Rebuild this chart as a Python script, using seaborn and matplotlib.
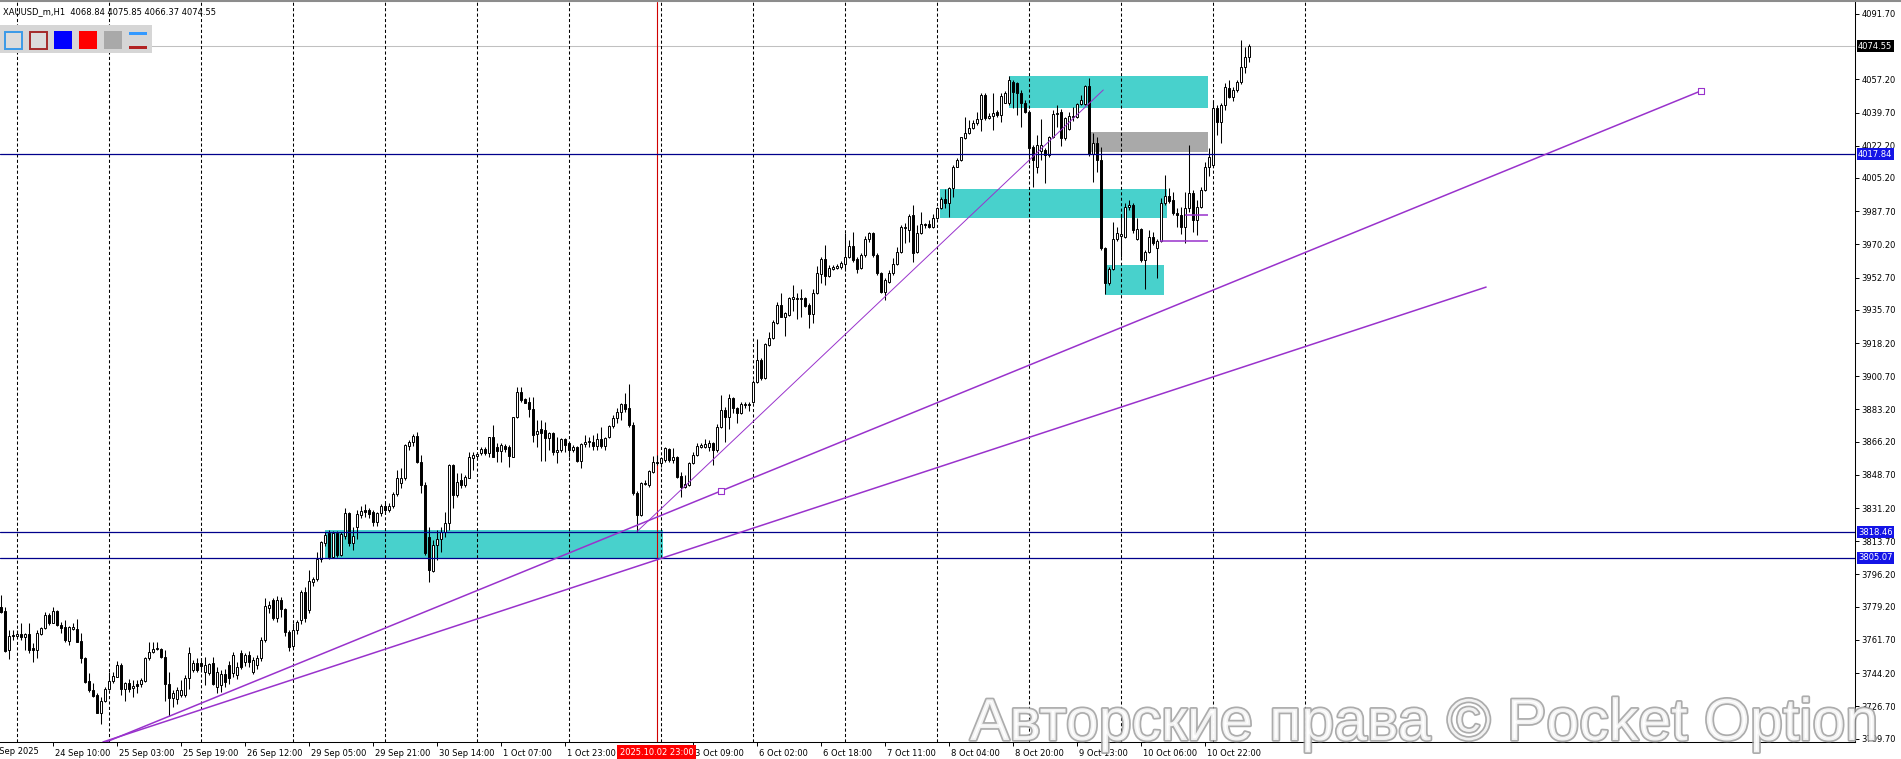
import numpy as np
import pandas as pd
import seaborn as sns
import matplotlib.pyplot as plt
import matplotlib.patheffects as pe
from matplotlib.patches import Rectangle
from matplotlib.transforms import ScaledTranslation

W, H, DPI = 1901, 759, 100

# H1 bars, bar 0 = 23 Sep 20:00
bar_open = [
    3779.3, 3777.2, 3756.4, 3764.0, 3763.8, 3764.9, 3763.4, 3764.7, 3757.3, 3756.4,
    3764.9, 3767.8, 3774.9, 3770.5, 3777.0, 3769.6, 3768.4, 3761.3, 3767.5, 3767.5,
    3761.1, 3752.0, 3740.3, 3735.3, 3732.7, 3723.4, 3729.7, 3735.7, 3740.3, 3742.4,
    3748.5, 3735.7, 3738.9, 3736.2, 3738.3, 3738.3, 3740.3, 3752.0, 3755.5, 3756.8,
    3756.8, 3752.6, 3738.3, 3731.0, 3730.4, 3732.7, 3732.7, 3741.5, 3745.9, 3749.8,
    3749.8, 3744.6, 3744.1, 3749.4, 3737.1, 3738.0, 3744.0, 3748.5, 3744.1, 3743.2,
    3754.7, 3750.3, 3753.8, 3745.0, 3748.5, 3752.0, 3761.7, 3778.3, 3782.7, 3773.1,
    3782.7, 3777.8, 3766.0, 3758.5, 3767.0, 3772.0, 3786.8, 3777.5, 3792.4, 3793.6,
    3804.3, 3812.6, 3818.2, 3805.6, 3818.2, 3806.5, 3816.5, 3828.4, 3812.6, 3821.0,
    3827.5, 3830.2, 3830.2, 3829.3, 3824.0, 3828.4, 3832.5, 3830.0, 3832.5, 3838.4,
    3844.5, 3847.2, 3864.1, 3866.2, 3869.2, 3855.7, 3843.4, 3816.2, 3798.1, 3811.8,
    3814.7, 3818.8, 3823.5, 3853.9, 3838.1, 3846.0, 3843.4, 3847.3, 3857.4, 3858.7,
    3860.1, 3862.2, 3860.1, 3868.5, 3863.2, 3861.5, 3864.0, 3863.2, 3858.3, 3879.1,
    3892.6, 3888.5, 3887.3, 3883.3, 3870.3, 3872.7, 3872.4, 3868.0, 3870.6, 3860.6,
    3861.8, 3867.5, 3865.7, 3861.8, 3863.6, 3856.2, 3865.0, 3866.2, 3866.2, 3863.9,
    3867.5, 3863.9, 3868.5, 3874.5, 3878.5, 3882.0, 3886.1, 3883.8, 3875.0, 3839.3,
    3827.6, 3843.9, 3843.4, 3850.4, 3854.8, 3854.8, 3856.6, 3862.2, 3856.6, 3858.3,
    3848.1, 3842.1, 3843.4, 3854.8, 3859.2, 3863.6, 3863.6, 3863.6, 3865.3, 3861.8,
    3874.1, 3882.9, 3879.4, 3889.1, 3883.8, 3881.2, 3885.5, 3885.5, 3887.0, 3897.8,
    3909.3, 3899.6, 3917.2, 3920.7, 3929.0, 3938.3, 3932.1, 3933.0, 3941.2, 3941.2,
    3941.2, 3942.1, 3938.3, 3933.5, 3944.4, 3954.6, 3962.3, 3953.5, 3957.4, 3957.9,
    3958.5, 3959.9, 3963.4, 3969.4, 3962.3, 3957.6, 3964.6, 3972.9, 3976.0, 3964.6,
    3955.0, 3945.3, 3950.6, 3955.0, 3959.9, 3966.4, 3978.7, 3977.8, 3985.7, 3966.4,
    3976.0, 3980.9, 3980.9, 3979.5, 3984.0, 3989.2, 3993.9, 3992.2, 3999.8, 4011.2,
    4014.7, 4026.1, 4028.7, 4031.4, 4034.0, 4036.1, 4048.9, 4036.7, 4037.9, 4040.2,
    4038.4, 4044.9, 4044.6, 4056.0, 4055.1, 4050.2, 4044.9, 4040.2, 4021.4, 4011.2,
    4019.6, 4020.0, 4017.3, 4026.6, 4038.9, 4040.2, 4026.1, 4030.8, 4037.2, 4037.2,
    4044.2, 4044.2, 4053.7, 4017.8, 4023.5, 4014.7, 3968.1, 3950.0, 3957.0, 3972.9,
    3974.6, 3974.3, 3990.1, 3991.0, 3972.9, 3978.1, 3962.0, 3966.4, 3974.3, 3968.1,
    3972.2, 3991.8, 3995.7, 3993.6, 3986.9, 3985.7, 3979.2, 3989.2, 3997.5, 3983.1,
    3989.7, 3998.9, 4011.2, 4012.0, 4041.9, 4034.9, 4043.7, 4052.5, 4048.1, 4051.6,
    4056.0, 4063.5, 4068.84,
]
bar_high = [
    3785.4, 3779.0, 3767.0, 3767.0, 3767.0, 3770.5, 3765.2, 3770.8, 3759.9, 3767.0,
    3768.4, 3776.6, 3775.8, 3779.3, 3777.5, 3771.4, 3772.2, 3769.1, 3770.5, 3772.9,
    3765.2, 3752.9, 3744.1, 3738.9, 3733.6, 3731.8, 3737.1, 3745.0, 3745.0, 3750.8,
    3749.4, 3739.7, 3741.0, 3740.6, 3740.6, 3741.5, 3752.9, 3760.8, 3760.8, 3760.8,
    3757.3, 3756.4, 3745.0, 3735.3, 3737.1, 3740.6, 3743.2, 3757.8, 3751.0, 3752.0,
    3752.0, 3752.9, 3749.4, 3752.9, 3747.5, 3746.0, 3746.5, 3750.5, 3755.5, 3750.0,
    3756.4, 3755.0, 3756.0, 3752.5, 3754.0, 3763.0, 3783.6, 3782.0, 3784.0, 3785.0,
    3784.5, 3778.5, 3767.0, 3770.5, 3772.0, 3788.0, 3789.5, 3798.5, 3795.0, 3808.2,
    3814.0, 3818.5, 3819.5, 3819.0, 3819.0, 3818.5, 3831.4, 3829.0, 3821.4, 3830.2,
    3832.5, 3833.2, 3831.0, 3830.0, 3829.0, 3833.3, 3834.0, 3834.0, 3839.5, 3851.3,
    3852.1, 3865.0, 3867.0, 3870.5, 3871.1, 3859.2, 3845.0, 3821.4, 3814.4, 3819.7,
    3821.4, 3829.3, 3854.3, 3854.3, 3849.5, 3849.5, 3848.7, 3861.0, 3861.0, 3861.0,
    3863.2, 3863.6, 3868.9, 3875.0, 3865.3, 3865.3, 3865.0, 3864.5, 3879.4, 3895.2,
    3895.2, 3889.1, 3889.9, 3889.9, 3877.6, 3877.6, 3876.8, 3871.5, 3871.5, 3868.9,
    3868.0, 3868.0, 3866.2, 3864.5, 3863.9, 3865.3, 3869.7, 3868.9, 3869.7, 3870.6,
    3874.1, 3868.9, 3875.0, 3880.3, 3883.8, 3886.8, 3891.7, 3896.6, 3876.8, 3840.0,
    3845.1, 3846.0, 3851.3, 3858.7, 3859.2, 3858.3, 3863.6, 3862.7, 3862.7, 3858.7,
    3850.4, 3848.6, 3855.7, 3860.9, 3865.3, 3865.3, 3867.4, 3867.0, 3866.2, 3875.5,
    3890.8, 3884.7, 3891.2, 3890.0, 3884.7, 3887.3, 3887.3, 3887.3, 3898.7, 3920.2,
    3910.1, 3918.0, 3924.2, 3930.3, 3940.0, 3944.4, 3934.7, 3942.6, 3948.8, 3944.4,
    3946.5, 3942.3, 3939.1, 3946.5, 3958.8, 3963.7, 3969.9, 3959.3, 3959.3, 3959.9,
    3961.6, 3976.4, 3972.5, 3976.9, 3963.7, 3965.5, 3974.6, 3976.6, 3976.6, 3965.5,
    3955.8, 3952.3, 3956.7, 3962.9, 3969.0, 3980.4, 3981.3, 3986.2, 3991.0, 3980.4,
    3987.5, 3981.3, 3983.1, 3986.1, 3990.1, 3995.4, 3999.2, 4000.6, 4012.1, 4015.6,
    4027.0, 4037.5, 4035.8, 4035.8, 4040.2, 4049.8, 4049.8, 4039.3, 4049.8, 4041.0,
    4049.8, 4051.2, 4059.0, 4056.9, 4056.0, 4051.6, 4046.3, 4041.0, 4022.6, 4027.9,
    4036.1, 4020.8, 4027.3, 4041.0, 4043.7, 4041.4, 4037.5, 4040.2, 4042.4, 4044.9,
    4048.9, 4054.2, 4057.7, 4028.7, 4027.0, 4021.7, 3969.0, 3958.1, 3982.2, 3979.5,
    3985.7, 3991.8, 3993.6, 3991.8, 3983.9, 3978.7, 3967.2, 3977.8, 3976.9, 3972.9,
    3994.5, 4006.8, 4000.1, 3998.0, 3989.2, 3990.1, 3998.0, 4022.6, 3998.9, 3993.6,
    4000.6, 4013.8, 4020.8, 4046.3, 4043.7, 4044.5, 4055.4, 4056.8, 4053.3, 4056.8,
    4077.9, 4074.4, 4075.85,
]
bar_low = [
    3775.8, 3755.5, 3751.5, 3761.7, 3763.0, 3761.7, 3756.4, 3754.7, 3750.3, 3752.0,
    3764.3, 3767.5, 3769.6, 3770.5, 3769.1, 3765.2, 3760.8, 3759.1, 3767.0, 3760.4,
    3749.4, 3738.9, 3734.5, 3731.8, 3723.0, 3717.2, 3729.2, 3735.3, 3738.9, 3742.0,
    3732.7, 3729.5, 3734.5, 3731.8, 3733.6, 3737.1, 3739.7, 3751.2, 3754.7, 3756.4,
    3752.0, 3729.5, 3721.6, 3726.5, 3727.8, 3731.8, 3731.8, 3735.7, 3745.0, 3745.0,
    3745.0, 3738.0, 3743.2, 3738.0, 3733.6, 3734.0, 3737.0, 3738.5, 3742.0, 3741.0,
    3746.2, 3748.0, 3747.5, 3743.5, 3746.5, 3750.5, 3760.5, 3776.0, 3772.0, 3771.0,
    3774.0, 3764.0, 3756.0, 3757.0, 3765.0, 3770.0, 3771.0, 3776.0, 3790.0, 3793.0,
    3803.0, 3811.0, 3804.5, 3805.0, 3805.6, 3806.0, 3815.0, 3811.2, 3809.1, 3815.0,
    3826.0, 3826.7, 3826.0, 3822.0, 3821.9, 3827.0, 3828.0, 3829.0, 3831.0, 3837.5,
    3841.6, 3846.0, 3862.0, 3864.0, 3854.8, 3839.0, 3806.5, 3792.4, 3797.7, 3803.8,
    3808.2, 3816.0, 3819.7, 3831.1, 3837.2, 3841.6, 3842.5, 3846.9, 3851.3, 3857.0,
    3859.2, 3859.2, 3858.3, 3857.9, 3855.7, 3855.7, 3861.0, 3853.0, 3858.0, 3878.5,
    3887.3, 3886.4, 3879.4, 3866.2, 3863.6, 3856.2, 3856.2, 3861.8, 3859.2, 3854.8,
    3861.0, 3861.0, 3858.3, 3861.0, 3855.7, 3852.2, 3863.6, 3863.6, 3861.8, 3861.8,
    3862.7, 3861.8, 3868.0, 3873.3, 3875.9, 3877.6, 3882.0, 3874.1, 3838.0, 3818.8,
    3827.0, 3843.4, 3842.5, 3849.9, 3853.9, 3853.0, 3855.7, 3855.7, 3854.8, 3846.9,
    3837.2, 3841.6, 3842.8, 3854.4, 3858.7, 3862.7, 3862.7, 3861.5, 3853.9, 3861.0,
    3873.6, 3866.2, 3872.7, 3881.2, 3876.2, 3880.8, 3884.0, 3882.6, 3886.4, 3897.3,
    3898.7, 3899.1, 3916.6, 3920.2, 3928.2, 3931.8, 3921.9, 3932.5, 3935.0, 3931.0,
    3932.0, 3937.0, 3926.0, 3928.6, 3943.9, 3950.0, 3948.8, 3953.2, 3956.7, 3957.4,
    3957.4, 3956.4, 3962.9, 3961.1, 3955.3, 3957.1, 3963.7, 3971.6, 3963.7, 3954.1,
    3944.4, 3940.9, 3950.0, 3954.1, 3959.3, 3965.5, 3970.8, 3971.6, 3961.1, 3965.5,
    3975.7, 3978.7, 3978.7, 3979.0, 3983.4, 3988.7, 3989.2, 3984.5, 3995.4, 4010.8,
    4014.3, 4025.6, 4028.4, 4031.0, 4033.1, 4030.2, 4035.8, 4036.1, 4030.5, 4037.5,
    4034.9, 4044.6, 4043.7, 4041.9, 4038.4, 4032.3, 4039.6, 4012.9, 4000.6, 4007.7,
    4014.7, 4002.4, 4016.4, 4026.1, 4032.3, 4022.1, 4025.2, 4030.5, 4035.4, 4036.6,
    4043.7, 4043.7, 4016.8, 4003.3, 4008.5, 3967.2, 3944.0, 3948.8, 3956.7, 3972.2,
    3963.7, 3973.4, 3988.3, 3976.4, 3972.5, 3961.1, 3946.5, 3965.9, 3969.9, 3952.3,
    3971.6, 3991.0, 3991.8, 3985.7, 3979.5, 3975.7, 3970.8, 3987.4, 3976.9, 3975.1,
    3989.2, 3998.5, 4006.2, 4011.2, 4028.0, 4023.5, 4041.0, 4047.2, 4045.9, 4050.7,
    4054.7, 4060.7, 4066.37,
]
bar_close = [
    3776.6, 3755.9, 3764.0, 3763.8, 3764.9, 3763.4, 3764.7, 3756.4, 3756.4, 3765.2,
    3767.8, 3774.9, 3770.5, 3777.0, 3769.6, 3767.8, 3761.7, 3768.4, 3768.4, 3760.8,
    3752.0, 3739.7, 3735.3, 3732.2, 3723.4, 3729.7, 3735.7, 3740.3, 3742.7, 3748.5,
    3735.7, 3738.9, 3735.9, 3737.6, 3737.6, 3740.6, 3752.0, 3755.5, 3756.8, 3757.3,
    3752.6, 3738.3, 3731.0, 3733.6, 3735.3, 3735.3, 3741.5, 3754.7, 3749.4, 3745.9,
    3748.0, 3748.5, 3748.9, 3738.3, 3745.0, 3743.5, 3739.5, 3741.5, 3753.8, 3747.6,
    3747.6, 3753.8, 3750.0, 3751.2, 3752.0, 3761.7, 3779.5, 3780.1, 3773.1, 3782.7,
    3777.8, 3766.0, 3758.2, 3767.0, 3771.0, 3786.8, 3773.0, 3792.8, 3793.6, 3804.3,
    3813.1, 3817.0, 3805.6, 3818.2, 3806.5, 3817.4, 3828.4, 3812.6, 3816.5, 3827.9,
    3829.8, 3829.3, 3828.1, 3824.0, 3828.4, 3832.5, 3830.0, 3832.5, 3838.4, 3847.2,
    3847.0, 3864.4, 3866.2, 3869.2, 3855.7, 3843.4, 3807.4, 3798.6, 3811.8, 3814.7,
    3818.8, 3823.5, 3853.9, 3838.1, 3845.1, 3843.4, 3847.8, 3858.0, 3859.2, 3859.7,
    3862.4, 3860.4, 3868.5, 3858.3, 3861.5, 3864.5, 3862.2, 3858.7, 3879.1, 3892.6,
    3888.2, 3886.8, 3883.3, 3869.7, 3871.8, 3870.6, 3868.0, 3870.6, 3860.6, 3861.8,
    3867.5, 3864.5, 3861.8, 3863.2, 3856.2, 3865.0, 3866.2, 3866.7, 3863.9, 3867.5,
    3863.9, 3868.0, 3874.5, 3878.5, 3882.0, 3886.1, 3883.3, 3875.0, 3839.0, 3827.6,
    3844.3, 3844.6, 3850.8, 3855.7, 3855.7, 3857.4, 3862.7, 3856.6, 3858.3, 3847.4,
    3842.1, 3843.9, 3854.8, 3859.2, 3863.9, 3864.5, 3864.8, 3865.7, 3861.8, 3874.1,
    3882.9, 3879.4, 3889.1, 3883.8, 3881.2, 3886.1, 3886.1, 3886.1, 3897.8, 3909.3,
    3899.6, 3917.7, 3920.7, 3929.5, 3938.3, 3932.1, 3933.9, 3941.8, 3942.6, 3942.1,
    3942.1, 3937.7, 3933.5, 3944.4, 3955.1, 3962.3, 3953.5, 3957.6, 3958.1, 3959.0,
    3960.6, 3963.7, 3969.4, 3962.0, 3957.1, 3964.6, 3972.9, 3976.3, 3964.6, 3955.0,
    3945.3, 3951.4, 3955.0, 3959.9, 3966.4, 3979.5, 3979.5, 3985.2, 3965.8, 3976.0,
    3980.9, 3980.4, 3979.5, 3984.3, 3989.2, 3993.9, 3992.2, 3999.8, 4011.2, 4014.7,
    4026.6, 4029.1, 4031.4, 4034.0, 4036.1, 4048.9, 4036.7, 4037.9, 4039.6, 4038.4,
    4048.4, 4049.8, 4056.9, 4050.7, 4050.2, 4044.9, 4040.2, 4020.8, 4014.7, 4022.6,
    4022.6, 4017.3, 4026.6, 4038.9, 4039.3, 4026.1, 4036.6, 4037.9, 4037.9, 4044.2,
    4046.3, 4053.7, 4017.8, 4023.5, 4014.7, 3968.1, 3950.0, 3957.0, 3972.9, 3976.4,
    3975.7, 3990.1, 3991.0, 3977.8, 3978.1, 3962.0, 3966.4, 3974.3, 3970.8, 3972.2,
    3992.2, 3995.7, 3993.2, 3986.6, 3985.7, 3979.5, 3989.2, 3997.1, 3983.1, 3989.7,
    3998.9, 4011.2, 4016.4, 4041.9, 4034.9, 4043.7, 4053.0, 4048.1, 4051.6, 4056.0,
    4063.5, 4068.8, 4074.55,
]

price_ticks = [4091.70, 4057.20, 4039.70, 4022.20, 4005.20, 3987.70, 3970.20,
               3952.70, 3935.70, 3918.20, 3900.70, 3883.20, 3866.20, 3848.70,
               3831.20, 3813.70, 3796.20, 3779.20, 3761.70, 3744.20, 3726.70,
               3709.70]
time_tick_bars = [13, 29, 45, 61, 77, 93, 109, 125, 141, 173, 189, 205, 221,
                  237, 253, 269, 285, 301]
time_tick_labels = ['24 Sep 10:00', '25 Sep 03:00', '25 Sep 19:00',
                    '26 Sep 12:00', '29 Sep 05:00', '29 Sep 21:00',
                    '30 Sep 14:00', '1 Oct 07:00', '1 Oct 23:00',
                    '3 Oct 09:00', '6 Oct 02:00', '6 Oct 18:00', '7 Oct 11:00',
                    '8 Oct 04:00', '8 Oct 20:00', '9 Oct 13:00', '10 Oct 06:00',
                    '10 Oct 22:00']
separator_bars = [4, 27, 50, 73, 96, 119, 142, 165, 188, 211, 234, 257, 280,
                  303, 326]

level_prices = [4017.84, 3818.46, 3805.07]
last_price = 4074.55
cursor_bar = 164
cursor_label = '2025.10.02 23:00'

zone_left = [81.0, 252.0, 272.2, 234.9, 276.0]
zone_right = [165.6, 301.8, 301.8, 291.7, 290.9]
zone_low = [3804.7, 4042.3, 4018.7, 3984.3, 3943.5]
zone_high = [3819.8, 4059.0, 4029.3, 3999.5, 3959.3]
zone_color = ['#48D1CC', '#48D1CC', '#A9A9A9', '#48D1CC', '#48D1CC']

trend_x0 = [26.4, 25.6, 159.05]
trend_y0 = [3707.9, 3707.9, 3818.7]
trend_x1 = [425.1, 371.4, 275.7]
trend_y1 = [4051.1, 3947.7, 4051.6]
trend_lw = [1.1, 1.1, 0.7]
anchor_x = [180.1, 425.1]
anchor_y = [3840.2, 4051.1]

stub_x0 = [296.1, 289.9]
stub_x1 = [301.8, 301.8]
stub_y = [3985.7, 3971.8]

PURPLE = '#9932CC'

sns.set_theme(style='white')
plt.rcParams['font.family'] = ['DejaVu Sans']

fig = plt.figure(figsize=(W / DPI, H / DPI), dpi=DPI)
fig.patch.set_facecolor('white')
ax = fig.add_axes([0, 17 / H, 1855 / W, 740 / H])
ax.set_facecolor('white')
ax.set_xlim(-0.125, 463.625)
ax.set_ylim(3707.9, 4097.97)

bars = pd.DataFrame({'open': bar_open, 'high': bar_high,
                     'low': bar_low, 'close': bar_close})
bars['bar'] = np.arange(len(bars))
up = bars['close'] >= bars['open']

# zones (background)
for x0, x1, lo, hi, c in zip(zone_left, zone_right, zone_low, zone_high, zone_color):
    ax.add_patch(Rectangle((x0, lo), x1 - x0, hi - lo, fc=c, ec='none', zorder=1))

# day separators and cursor line
for b in separator_bars:
    ax.axvline(b, color='black', lw=0.75, ls=(0, (3, 2.2)), zorder=2)
ax.axvline(cursor_bar, color='#D00000', lw=0.8, zorder=2.5)
ax.axhline(last_price, color='#C0C0C0', lw=0.75, zorder=1.5)

# candles
ax.vlines(bars['bar'], bars['low'], bars['high'], color='black', lw=0.75, zorder=3)
body_lo = bars[['open', 'close']].min(axis=1)
body_h = (bars['close'] - bars['open']).abs().clip(lower=0.35)
ax.bar(bars['bar'], body_h, bottom=body_lo, width=0.5,
       color=np.where(up, 'white', 'black'), edgecolor='black',
       linewidth=0.7, zorder=4)

# horizontal levels
for p in level_prices:
    ax.axhline(p, color='#00008B', lw=0.9, zorder=5)

# trend lines
for x0, y0, x1, y1, lw in zip(trend_x0, trend_y0, trend_x1, trend_y1, trend_lw):
    sns.lineplot(x=[x0, x1], y=[y0, y1], color=PURPLE, lw=lw, ax=ax, zorder=5)
ax.hlines(stub_y, stub_x0, stub_x1, color=PURPLE, lw=1.1, zorder=5)
sns.scatterplot(x=anchor_x, y=anchor_y, marker='s', s=14, color='white',
                edgecolor=PURPLE, linewidth=0.8, ax=ax, zorder=6)

# axes styling
for side in ['top', 'left']:
    ax.spines[side].set_visible(False)
for side in ['right', 'bottom']:
    ax.spines[side].set_color('black')
    ax.spines[side].set_linewidth(0.75)

ax.yaxis.tick_right()
ax.set_yticks(price_ticks)
ax.set_yticklabels([f'{p:.2f}' for p in price_ticks])
ax.tick_params(axis='y', which='both', right=True, left=False, direction='out',
               length=3, width=0.7, pad=1.5, labelsize=6, colors='black')
ax.set_xticks(time_tick_bars)
ax.set_xticklabels(time_tick_labels, ha='left')
ax.tick_params(axis='x', bottom=True, direction='out', length=3, width=0.7,
               pad=2, labelsize=6, colors='black')
shift = ScaledTranslation(2 / DPI, 0, fig.dpi_scale_trans)
for lab in ax.get_xticklabels():
    lab.set_transform(lab.get_transform() + shift)
ax.set_xlabel('')
ax.set_ylabel('')

# price labels on the right axis
for p in level_prices:
    ax.annotate(f'{p:.2f}', xy=(1, p), xycoords=('axes fraction', 'data'),
                xytext=(2.2, 0), textcoords='offset points', ha='left',
                va='center', fontsize=6, color='white', annotation_clip=False,
                bbox=dict(boxstyle='square,pad=0.18', fc='#1414E6', ec='none'),
                zorder=8)
ax.annotate(f'{last_price:.2f}', xy=(1, last_price), xycoords=('axes fraction', 'data'),
            xytext=(2.2, 0), textcoords='offset points', ha='left', va='center',
            fontsize=6, color='white', annotation_clip=False,
            bbox=dict(boxstyle='square,pad=0.18', fc='black', ec='none'), zorder=8)
ax.annotate(cursor_label, xy=(cursor_bar, 0), xycoords=('data', 'axes fraction'),
            xytext=(0, -7.4), textcoords='offset points', ha='center',
            va='center', fontsize=6, color='white', annotation_clip=False,
            bbox=dict(boxstyle='square,pad=0.35', fc='#FF0000', ec='none'),
            zorder=9)

# overlay in pixel coordinates: header, toolbar, watermark
ov = fig.add_axes([0, 0, 1, 1], zorder=10)
ov.set_xlim(0, W)
ov.set_ylim(H, 0)
ov.axis('off')
ov.patch.set_alpha(0)

ov.plot([0, W], [1, 1], color='#8C8C8C', lw=1.5)
ov.text(3, 12, 'XAUUSD_m,H1  4068.84 4075.85 4066.37 4074.55',
        fontsize=6, va='center', ha='left', color='black')
ov.text(39, 752, '23 Sep 2025', fontsize=6, va='center', ha='right', color='black')

ov.add_patch(Rectangle((0, 25), 152, 28, fc='#D6D6D6', ec='none'))
ov.add_patch(Rectangle((4.5, 31.5), 17, 17, fc='#DCDCDC', ec='#3A9AE8', lw=1.4))
ov.add_patch(Rectangle((29.5, 31.5), 17, 17, fc='#DCDCDC', ec='#A52A2A', lw=1.4))
ov.add_patch(Rectangle((54, 31), 18, 18, fc='#0000FF', ec='none'))
ov.add_patch(Rectangle((79, 31), 18, 18, fc='#FF0000', ec='none'))
ov.add_patch(Rectangle((104, 31), 18, 18, fc='#A9A9A9', ec='none'))
ov.add_patch(Rectangle((129, 31.5), 18, 3.5, fc='#3399FF', ec='none'))
ov.add_patch(Rectangle((129, 45.5), 18, 3.5, fc='#B22222', ec='none'))

wm = ov.text(970, 740, 'Авторские права © Pocket Option', fontsize=43,
             family=['Liberation Sans', 'DejaVu Sans'], color='white', alpha=0.85,
             ha='left', va='baseline',
             path_effects=[pe.withStroke(linewidth=2.5, foreground='#9E9E9E')])
fig.canvas.draw()
bb = wm.get_window_extent(renderer=fig.canvas.get_renderer())
wm.set_fontsize(43 * 909 / bb.width)

fig.savefig('out.png', dpi=DPI)
